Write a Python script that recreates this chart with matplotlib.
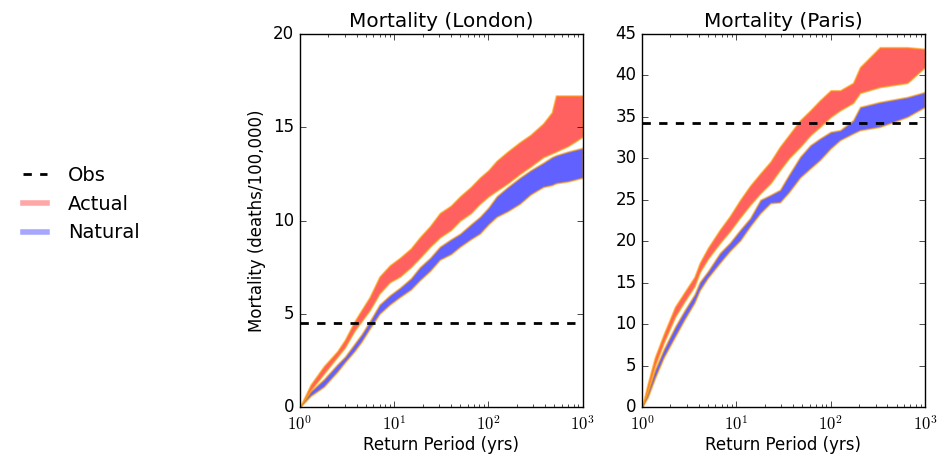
import math

import matplotlib

matplotlib.use("Agg")
import matplotlib.pyplot as plt
from matplotlib.lines import Line2D
from matplotlib.ticker import FuncFormatter, LogLocator

plt.style.use("classic")
plt.rcParams["figure.facecolor"] = "white"
plt.rcParams["savefig.facecolor"] = "white"
plt.rcParams["mathtext.fontset"] = "cm"
plt.rcParams["xtick.major.pad"] = 6

# Return-period grids (yrs) and the uncertainty bands for each city
RP_LONDON = [1, 1.3, 1.8, 2.5, 3.0, 3.8, 4.5, 5.5, 7, 9, 11.5, 15, 18.7, 24, 30.5, 40,
             50, 65, 81, 100, 122, 160, 215, 280, 380, 470, 520, 700, 1000]
LONDON_ACTUAL_LO = [0, 0.9, 1.8, 2.7, 3.2, 4.1, 4.6, 5.2, 6.1, 6.7, 7.0, 7.5, 8.0, 8.6, 9.1, 9.5,
                    10.0, 10.4, 10.9, 11.3, 11.6, 12.0, 12.5, 12.9, 13.4, 13.6, 13.7, 14.0, 14.5]
LONDON_ACTUAL_HI = [0, 1.2, 2.2, 3.0, 3.6, 4.6, 5.2, 5.9, 7.0, 7.6, 8.0, 8.5, 9.1, 9.7, 10.4, 10.8,
                    11.3, 11.8, 12.3, 12.7, 13.2, 13.7, 14.2, 14.6, 15.2, 15.8, 16.7, 16.7, 16.7]
LONDON_NATURAL_LO = [0, 0.6, 1.1, 1.9, 2.4, 3.0, 3.5, 4.2, 5.0, 5.5, 5.9, 6.3, 6.8, 7.3, 7.9, 8.2,
                     8.6, 9.0, 9.3, 9.8, 10.2, 10.5, 10.9, 11.4, 11.8, 11.9, 12.0, 12.1, 12.3]
LONDON_NATURAL_HI = [0, 0.85, 1.5, 2.3, 2.7, 3.4, 3.9, 4.6, 5.5, 6.0, 6.4, 6.9, 7.5, 8.0, 8.6, 9.0,
                     9.3, 9.8, 10.2, 10.7, 11.3, 11.8, 12.3, 12.7, 13.1, 13.4, 13.5, 13.7, 13.9]
LONDON_OBS = 4.5

RP_PARIS = [1, 1.15, 1.37, 1.7, 2.24, 2.8, 3.6, 4.1, 5.0, 6.7, 8.5, 11, 14, 18, 23, 29, 36,
            47.5, 61, 77, 100, 126, 173, 205, 333, 650, 1000]
PARIS_ACTUAL_LO = [0, 2.0, 5.0, 7.8, 10.9, 12.7, 14.6, 16.3, 17.9, 19.8, 21.2, 22.9, 24.4, 25.8,
                   27.0, 28.6, 30.0, 31.4, 32.8, 33.8, 35.0, 35.8, 36.7, 37.9, 38.6, 39.1, 41.0]
PARIS_ACTUAL_HI = [0, 2.8, 6.0, 8.8, 12.1, 13.8, 15.7, 17.4, 19.2, 21.4, 23.0, 25.0, 26.7, 28.2,
                   29.6, 31.4, 32.8, 34.6, 35.8, 37.0, 38.2, 38.2, 39.1, 41.0, 43.4, 43.4, 43.2]
PARIS_NATURAL_LO = [0, 1.2, 3.5, 6.0, 8.5, 10.5, 12.6, 14.1, 15.6, 17.4, 18.8, 20.1, 21.8, 23.4,
                    24.6, 24.7, 25.9, 27.7, 28.8, 29.8, 31.2, 32.2, 33.0, 33.4, 33.8, 35.0, 36.2]
PARIS_NATURAL_HI = [0, 1.8, 4.5, 7.0, 9.7, 11.6, 13.6, 15.1, 16.4, 18.6, 19.8, 21.4, 22.8, 25.0,
                    25.6, 26.2, 28.0, 30.2, 31.6, 32.4, 33.2, 33.4, 34.6, 36.2, 36.8, 37.4, 38.0]
PARIS_OBS = 34.3

ACTUAL_FACE = (1.0, 0.0, 0.0, 0.62)
NATURAL_FACE = (0.0, 0.0, 1.0, 0.62)
BAND_EDGE = (1.0, 0.62, 0.0, 0.6)


def decade_label(value, _pos):
    # plain mathtext so the exponents come out in Computer Modern
    return r"$10^{%d}$" % round(math.log10(value))


def draw_panel(ax, rp, act_lo, act_hi, nat_lo, nat_hi, obs, title, ymax):
    ax.fill_between(rp, act_lo, act_hi, facecolor=ACTUAL_FACE, edgecolor=BAND_EDGE, linewidth=1.3)
    ax.fill_between(rp, nat_lo, nat_hi, facecolor=NATURAL_FACE, edgecolor=BAND_EDGE, linewidth=1.3)
    ax.axhline(obs, color="k", linestyle="--", linewidth=2)
    ax.set_xscale("log")
    ax.set_xlim(1, 1000)
    ax.xaxis.set_major_locator(LogLocator(base=10))
    ax.xaxis.set_major_formatter(FuncFormatter(decade_label))
    ax.set_ylim(0, ymax)
    ax.set_title(title)
    ax.set_xlabel("Return Period (yrs)", labelpad=1)


fig = plt.figure(figsize=(9.4, 4.59), dpi=100)
ax_lon = fig.add_axes([0.319, 0.113, 0.301, 0.813])
ax_par = fig.add_axes([0.683, 0.113, 0.301, 0.813])

draw_panel(ax_lon, RP_LONDON, LONDON_ACTUAL_LO, LONDON_ACTUAL_HI,
           LONDON_NATURAL_LO, LONDON_NATURAL_HI, LONDON_OBS, "Mortality (London)", 20)
ax_lon.set_yticks(range(0, 21, 5))
ax_lon.set_ylabel("Mortality (deaths/100,000)")

draw_panel(ax_par, RP_PARIS, PARIS_ACTUAL_LO, PARIS_ACTUAL_HI,
           PARIS_NATURAL_LO, PARIS_NATURAL_HI, PARIS_OBS, "Mortality (Paris)", 45)
ax_par.set_yticks(range(0, 46, 5))

handles = [
    Line2D([], [], color="k", linestyle="--", linewidth=2),
    Line2D([], [], color=(1.0, 0.0, 0.0), alpha=0.35, linewidth=4),
    Line2D([], [], color=(0.0, 0.0, 1.0), alpha=0.35, linewidth=4),
]
fig.legend(handles, ["Obs", "Actual", "Natural"], loc="center left",
           bbox_to_anchor=(0.0, 0.555), frameon=False, fontsize=14,
           handlelength=1.8, borderaxespad=0.5)

fig.savefig("out.png", dpi=100)
